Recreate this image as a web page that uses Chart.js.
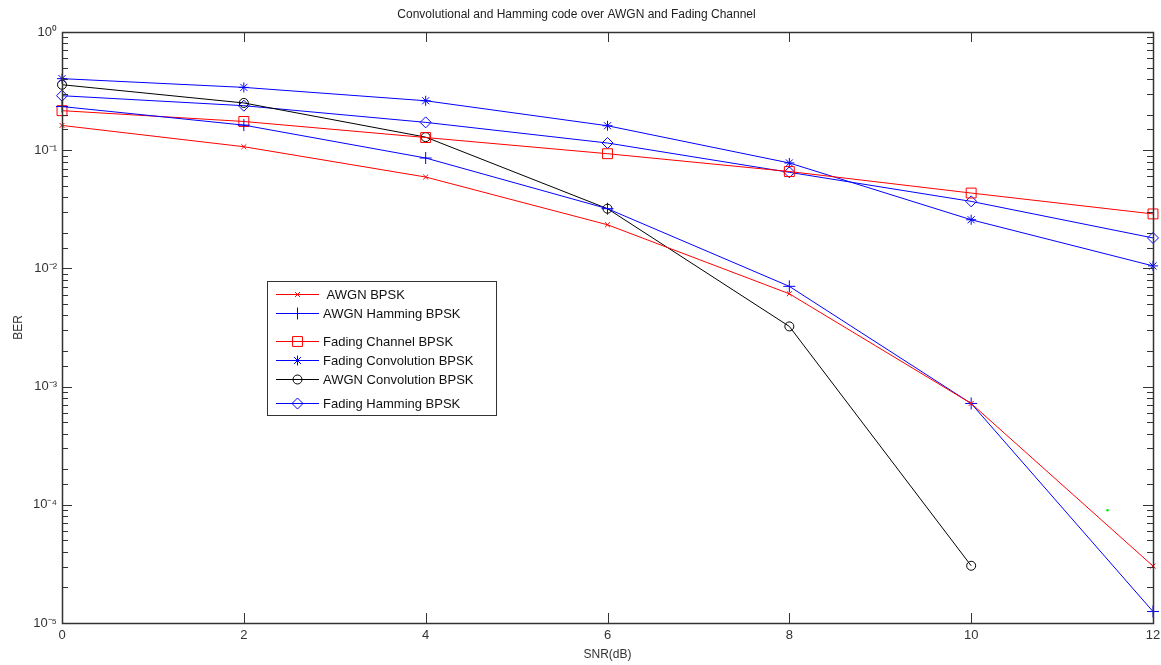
<!DOCTYPE html>
<html>
<head>
<meta charset="utf-8">
<script src="https://cdn.jsdelivr.net/npm/chart.js@4/dist/chart.umd.min.js"></script>
<style>
  html, body { margin: 0; padding: 0; background: #fff; }
  #wrap { width: 1161px; height: 665px; position: relative; }
</style>
</head>
<body>
<div id="wrap"><canvas id="myChart"></canvas></div>
<script>
var snr = [0, 2, 4, 6, 8, 10, 12];
var awgnBpsk = [0.162, 0.107, 0.0593, 0.0234, 0.0061, 0.00072, 0.0000303];
var awgnHamming = [0.234, 0.163, 0.0859, 0.032, 0.00705, 0.00072, 0.0000125];
var fadingChannel = [0.216, 0.175, 0.128, 0.0934, 0.066, 0.0434, 0.0289];
var fadingConv = [0.403, 0.34, 0.262, 0.161, 0.078, 0.0258, 0.0105];
var awgnConv = [0.358, 0.251, 0.129, 0.032, 0.00323, 0.0000305];
var fadingHamming = [0.289, 0.238, 0.172, 0.115, 0.065, 0.0369, 0.0181];
var strayX = [11.5];
var strayY = [0.00009];
var yTickLabels = {"0": "10⁰", "-1": "10⁻¹", "-2": "10⁻²", "-3": "10⁻³", "-4": "10⁻⁴", "-5": "10⁻⁵"};

var FONT = "'Liberation Sans', Arial, sans-serif";
var AXIS = "#333333";
var RED = "rgb(255,0,0)", BLUE = "rgb(0,0,255)", BLACK = "rgb(0,0,0)";

function pts(xs, ys) {
  return ys.map(function (v, i) { return {x: xs[i], y: v}; });
}

function series(label, ys, color, style, radius) {
  return {
    label: label,
    data: pts(snr, ys),
    lineColor: color,
    borderColor: color,
    backgroundColor: "rgba(0,0,0,0)",
    pointBorderColor: color,
    pointBackgroundColor: "rgba(0,0,0,0)",
    borderWidth: 1,
    pointStyle: style,
    pointRadius: radius,
    pointBorderWidth: 1,
    pointHoverRadius: radius,
    tension: 0,
    clip: false
  };
}

var datasets = [
  series(" AWGN BPSK", awgnBpsk, RED, "crossRot", 3.5),
  series("AWGN Hamming BPSK", awgnHamming, BLUE, "cross", 6),
  series("Fading Channel BPSK", fadingChannel, RED, "rect", 7),
  series("Fading Convolution BPSK", fadingConv, BLUE, "star", 5),
  series("AWGN Convolution BPSK", awgnConv, BLACK, "circle", 4.5),
  series("Fading Hamming BPSK", fadingHamming, BLUE, "rectRot", 5.5),
  {
    label: "stray",
    data: pts(strayX, strayY),
    showLine: false,
    pointStyle: "circle",
    pointRadius: 1.3,
    borderWidth: 0,
    pointBackgroundColor: "#00ee00",
    pointBorderColor: "#00ee00",
    clip: false
  }
];

// inward tick marks and box like the original figure
var boxPlugin = {
  id: "box",
  afterDatasetsDraw: function (chart) {
    var ctx = chart.ctx, a = chart.chartArea;
    var xs = chart.scales.x, ys = chart.scales.y;
    ctx.save();
    ctx.strokeStyle = AXIS;
    ctx.lineWidth = 1;
    ctx.beginPath();
    xs.ticks.forEach(function (t) {
      var px = Math.round(xs.getPixelForValue(t.value)) + 0.5;
      ctx.moveTo(px, a.bottom); ctx.lineTo(px, a.bottom - 10);
      ctx.moveTo(px, a.top); ctx.lineTo(px, a.top + 10);
    });
    ys.ticks.forEach(function (t) {
      var lg = Math.log10(t.value);
      var major = Math.abs(lg - Math.round(lg)) < 1e-6;
      var len = major ? 10 : 6;
      var py = Math.round(ys.getPixelForValue(t.value)) + 0.5;
      ctx.moveTo(a.left, py); ctx.lineTo(a.left + len, py);
      ctx.moveTo(a.right, py); ctx.lineTo(a.right - len, py);
    });
    ctx.stroke();
    ctx.lineWidth = 1.5;
    ctx.strokeRect(Math.round(a.left) + 0.5, Math.round(a.top) + 0.5,
      Math.round(a.right - a.left), Math.round(a.bottom - a.top));
    ctx.restore();
  }
};

var legendRows = [294, 313, 341, 360, 379, 403];
var legendPlugin = {
  id: "boxLegend",
  afterDraw: function (chart) {
    var ctx = chart.ctx;
    ctx.save();
    ctx.fillStyle = "#ffffff";
    ctx.fillRect(267.5, 281.5, 229, 134);
    ctx.strokeStyle = AXIS;
    ctx.lineWidth = 1;
    ctx.strokeRect(267.5, 281.5, 229, 134);
    ctx.font = "13px " + FONT;
    ctx.textBaseline = "middle";
    ctx.textAlign = "left";
    for (var i = 0; i < 6; i++) {
      var ds = datasets[i];
      var y = legendRows[i];
      ctx.fillStyle = "rgba(0,0,0,0)";
      ctx.strokeStyle = ds.lineColor;
      ctx.lineWidth = 1;
      Chart.helpers.drawPoint(ctx, {
        pointStyle: ds.pointStyle, radius: ds.pointRadius, rotation: 0, borderWidth: 1
      }, 297.5, y + 0.5);
      ctx.beginPath();
      ctx.moveTo(276, y + 0.5);
      ctx.lineTo(319, y + 0.5);
      ctx.stroke();
      ctx.fillStyle = "#111111";
      ctx.fillText(ds.label, 323, y + 1);
    }
    ctx.restore();
  }
};

var config = {
  type: "line",
  data: { datasets: datasets },
  options: {
    responsive: true,
    maintainAspectRatio: false,
    animation: false,
    layout: { padding: { top: 0, right: 8, left: 0, bottom: 0 } },
    plugins: {
      legend: { display: false },
      tooltip: { enabled: false },
      title: {
        display: true,
        text: "Convolutional and Hamming code over AWGN and Fading Channel",
        color: "#222222",
        font: { family: FONT, size: 12, weight: "normal" },
        padding: { top: 7, bottom: 10.6 }
      }
    },
    scales: {
      x: {
        type: "linear",
        min: 0,
        max: 12,
        grid: { display: false, drawTicks: false },
        border: { display: false },
        ticks: {
          stepSize: 2,
          padding: 5,
          color: "#333333",
          font: { family: FONT, size: 13 },
          maxRotation: 0
        },
        title: {
          display: true,
          text: "SNR(dB)",
          color: "#333333",
          font: { family: FONT, size: 12 },
          padding: { top: 0, bottom: 3 }
        },
        afterFit: function (s) { s.height = 42; s.paddingLeft = 0; s.paddingRight = 0; }
      },
      y: {
        type: "logarithmic",
        min: 0.00001,
        max: 1,
        grid: { display: false, drawTicks: false },
        border: { display: false },
        ticks: {
          autoSkip: false,
          padding: 5,
          color: "#333333",
          font: { family: FONT, size: 13 },
          callback: function (v) {
            var lg = Math.log10(v);
            if (Math.abs(lg - Math.round(lg)) < 1e-6) return yTickLabels[String(Math.round(lg))];
            return "";
          }
        },
        title: {
          display: true,
          text: "BER",
          color: "#333333",
          font: { family: FONT, size: 12 },
          padding: { top: 11, bottom: 0 }
        },
        afterFit: function (s) { s.width = 62; s.paddingTop = 0; s.paddingBottom = 0; }
      }
    }
  },
  plugins: [boxPlugin, legendPlugin]
};

var myChart = document.getElementById("myChart").getContext("2d");
var chart1 = new Chart(myChart, config);
</script>
</body>
</html>
